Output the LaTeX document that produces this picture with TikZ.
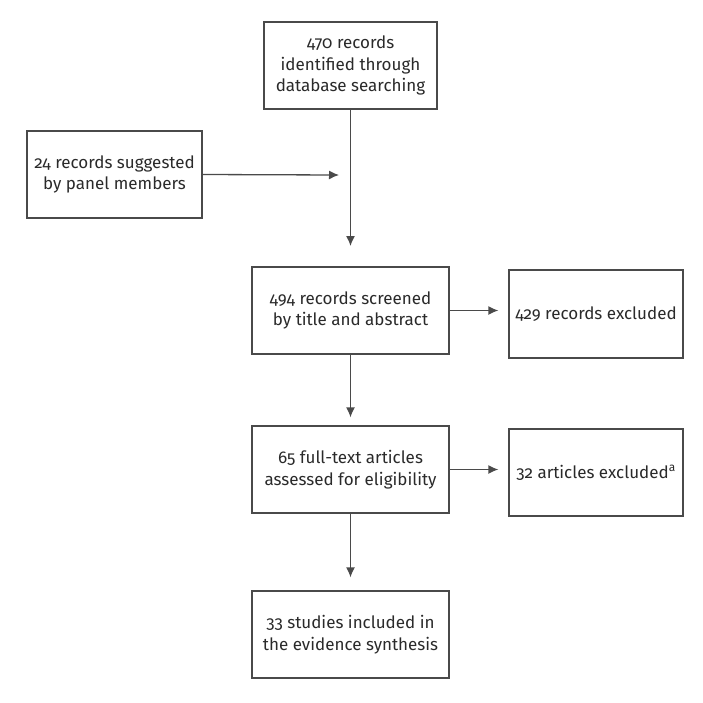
\documentclass[tikz,border=0pt]{standalone}
\usepackage{fontspec}
\setmainfont[Numbers=OldStyle]{Fira Sans}
\usetikzlibrary{arrows.meta}
\definecolor{txt}{HTML}{2A2A2A}
\definecolor{ln}{HTML}{4A4A4A}
\begin{document}
\begin{tikzpicture}[x=1pt,y=-1pt,
  box/.style={draw=ln, line width=1.3pt, text=txt, align=center, inner sep=0pt,
    font=\fontsize{17}{21.5}\selectfont},
  conn/.style={draw=ln, line width=1.3pt, -{Latex[length=10pt,width=9pt]}}]
\useasboundingbox (0,0) rectangle (703,702);
\fill[white] (0,0) rectangle (703,702);
\node[box, minimum width=173pt, minimum height=87pt] (a) at (350.5,65.5) {470 records\\identified through\\database searching};
\node[box, minimum width=175pt, minimum height=87pt] (b) at (114.5,174.5) {24 records suggested\\by panel members};
\node[box, minimum width=197pt, minimum height=87pt] (c) at (350.5,310.5) {494 records screened\\by title and abstract};
\node[box, minimum width=174pt, minimum height=88pt] (d) at (596,314) {429 records excluded};
\node[box, minimum width=197pt, minimum height=87pt] (e) at (350.5,469.5) {65 full-text articles\\assessed for eligibility};
\node[box, minimum width=174pt, minimum height=87pt] (f) at (596,472.5) {32 articles excluded\textsuperscript{a}};
\node[box, minimum width=197pt, minimum height=87pt] (g) at (350.5,634.5) {33 studies included in\\the evidence synthesis};
\coordinate (p) at (350.5,246);
\coordinate (q) at (339,175);
\draw[conn] (a.south) -- (p);
\draw[conn] (b.east) -- (q);
\draw[conn, shorten >=10pt] (c.east) -- (c.east -| d.west);
\draw[conn, shorten >=10pt] (e.east) -- (e.east -| f.west);
\draw[conn, shorten >=8pt] (c.south) -- (e.north);
\draw[conn, shorten >=13pt] (e.south) -- (g.north);
\end{tikzpicture}
\end{document}
